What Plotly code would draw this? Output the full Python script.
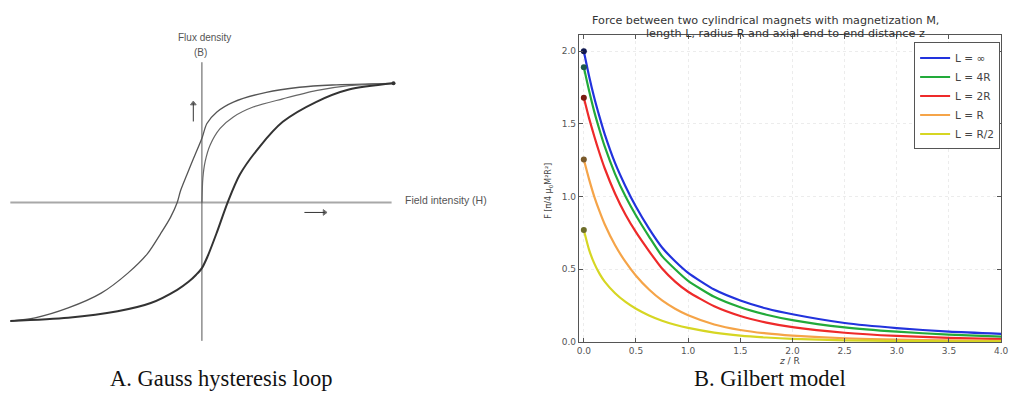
import plotly.graph_objects as go

# ---------------- Panel A: Gauss hysteresis loop (normalised H, B) ----------------
upper_H = [1.0, 0.681, 0.509, 0.336, 0.164, 0.078, 0.026, 0.0, -0.043, -0.078, -0.112, -0.129,
           -0.164, -0.216, -0.284, -0.388, -0.526, -0.698, -0.871, -1.0]
upper_B = [1.0, 0.986, 0.967, 0.925, 0.843, 0.760, 0.663, 0.539, 0.373, 0.235, 0.097, 0.0,
           -0.124, -0.262, -0.428, -0.594, -0.760, -0.884, -0.967, -0.994]
lower_H = [-1.0, -0.698, -0.440, -0.267, -0.129, -0.07, -0.03, 0.0, 0.03, 0.078, 0.134, 0.198, 0.302,
           0.422, 0.595, 0.767, 1.0]
lower_B = [-0.994, -0.967, -0.912, -0.843, -0.732, -0.665, -0.605, -0.55, -0.45, -0.25, 0.0, 0.235, 0.470,
           0.677, 0.843, 0.948, 1.0]
initial_H = [0.0, 0.005, 0.017, 0.043, 0.095, 0.164, 0.267, 0.422, 0.595, 0.767, 1.0]
initial_B = [0.0, 0.207, 0.345, 0.483, 0.622, 0.718, 0.801, 0.870, 0.939, 0.981, 1.0]
h_axis_extent = [-1.0, 0.99]
b_axis_extent = [1.177, -1.16]
saturation_point = (1.0, 1.0)
h_arrow_H = [0.535, 0.64]
h_arrow_B = [-0.083, -0.083]
b_arrow_H = [-0.045, -0.045]
b_arrow_B = [0.68, 0.83]

# ---------------- Panel B: Gilbert model ----------------
z = [0.0, 0.05, 0.1, 0.15, 0.2, 0.3, 0.4, 0.5, 0.625, 0.75, 0.875, 1.0,
     1.25, 1.5, 1.75, 2.0, 2.5, 3.0, 3.5, 4.0]
force = {
    "L = ∞":   [2.00, 1.83, 1.68, 1.55, 1.43, 1.23, 1.07, 0.93, 0.78, 0.65, 0.555, 0.475,
                0.36, 0.285, 0.23, 0.19, 0.13, 0.095, 0.07, 0.055],
    "L = 4R":  [1.89, 1.73, 1.585, 1.46, 1.345, 1.155, 1.0, 0.87, 0.725, 0.59, 0.50, 0.42,
                0.31, 0.238, 0.187, 0.15, 0.10, 0.07, 0.05, 0.036],
    "L = 2R":  [1.68, 1.54, 1.415, 1.30, 1.195, 1.02, 0.875, 0.755, 0.625, 0.505, 0.415, 0.345,
                0.245, 0.178, 0.133, 0.102, 0.063, 0.041, 0.028, 0.019],
    "L = R":   [1.255, 1.12, 1.0, 0.90, 0.81, 0.665, 0.55, 0.455, 0.36, 0.285, 0.228, 0.183,
                0.12, 0.082, 0.058, 0.043, 0.025, 0.015, 0.01, 0.007],
    "L = R/2": [0.77, 0.635, 0.54, 0.47, 0.415, 0.335, 0.275, 0.228, 0.182, 0.146, 0.118, 0.096,
                0.064, 0.043, 0.03, 0.021, 0.011, 0.006, 0.004, 0.003],
}
line_colors = ["#2233dd", "#22aa3a", "#ee2a2a", "#f5a448", "#d6d623"]
dot_colors = ["#101850", "#1d5a4a", "#7a1a10", "#7a5a2a", "#6e6e2a"]
z_ticks = [0.0, 0.5, 1.0, 1.5, 2.0, 2.5, 3.0, 3.5, 4.0]
f_ticks = [0.0, 0.5, 1.0, 1.5, 2.0]

W, H = 1021, 420
fig = go.Figure()

# Panel A traces
fig.add_trace(go.Scatter(x=h_axis_extent, y=[0, 0], mode="lines",
                         line=dict(color="#a8a8a8", width=2), showlegend=False, xaxis="x", yaxis="y"))
fig.add_trace(go.Scatter(x=[0, 0], y=b_axis_extent, mode="lines",
                         line=dict(color="#555555", width=1), showlegend=False, xaxis="x", yaxis="y"))
fig.add_trace(go.Scatter(x=upper_H, y=upper_B, mode="lines",
                         line=dict(color="#555555", width=1.3, shape="spline", smoothing=0.8),
                         showlegend=False, xaxis="x", yaxis="y"))
fig.add_trace(go.Scatter(x=initial_H, y=initial_B, mode="lines",
                         line=dict(color="#666666", width=1.2, shape="spline", smoothing=0.8),
                         showlegend=False, xaxis="x", yaxis="y"))
fig.add_trace(go.Scatter(x=lower_H, y=lower_B, mode="lines",
                         line=dict(color="#333333", width=2, shape="spline", smoothing=0.8),
                         showlegend=False, xaxis="x", yaxis="y"))
fig.add_trace(go.Scatter(x=[saturation_point[0]], y=[saturation_point[1]], mode="markers",
                         marker=dict(color="#333333", size=4), showlegend=False, xaxis="x", yaxis="y"))
for ax_h, ax_b, sym in [(h_arrow_H, h_arrow_B, "triangle-right"), (b_arrow_H, b_arrow_B, "triangle-up")]:
    fig.add_trace(go.Scatter(x=ax_h, y=ax_b, mode="lines+markers",
                             line=dict(color="#333333", width=1),
                             marker=dict(symbol=sym, size=[0, 5], color="#222222"),
                             showlegend=False, xaxis="x", yaxis="y"))

# Panel B traces
for (name, vals), lc in zip(force.items(), line_colors):
    fig.add_trace(go.Scatter(x=z, y=vals, mode="lines", name=name,
                             line=dict(color=lc, width=2.2, shape="spline", smoothing=0.6),
                             xaxis="x2", yaxis="y2"))
for (name, vals), dc in zip(force.items(), dot_colors):
    fig.add_trace(go.Scatter(x=[z[0]], y=[vals[0]], mode="markers", showlegend=False,
                             marker=dict(color=dc, size=6), xaxis="x2", yaxis="y2"))

axis_font = dict(family="DejaVu Sans", size=9, color="#555555")
fig.update_layout(
    width=W, height=H, margin=dict(l=0, r=0, t=0, b=0),
    paper_bgcolor="white", plot_bgcolor="white",
    xaxis=dict(domain=[0, 510 / W], range=[-1.0435, 1.595], visible=False, fixedrange=True),
    yaxis=dict(domain=[0, 1], range=[-1.782, 1.699], visible=False, fixedrange=True),
    xaxis2=dict(domain=[582 / W, 1008 / W], range=[-0.0475, 4.0], anchor="y2",
                tickvals=z_ticks, tickformat=".1f", ticks="inside", ticklen=4, tickcolor="#555",
                showline=True, linecolor="#555555", linewidth=1, mirror="ticks",
                showgrid=True, gridcolor="#ececec", griddash="dot", zeroline=False,
                tickfont=axis_font),
    yaxis2=dict(domain=[(H - 346) / H, (H - 35) / H], range=[0, 2.115], anchor="x2",
                tickvals=f_ticks, tickformat=".1f", ticks="inside", ticklen=4, tickcolor="#555",
                showline=True, linecolor="#555555", linewidth=1, mirror="ticks",
                showgrid=True, gridcolor="#ececec", griddash="dot", zeroline=False,
                tickfont=axis_font),
    legend=dict(x=1007 / W, xanchor="right", y=(H - 43) / H, yanchor="top",
                bgcolor="white", bordercolor="#555555", borderwidth=1,
                font=dict(family="DejaVu Sans", size=10.5, color="#444444")),
    showlegend=True,
)

ann = []
small = dict(family="Liberation Sans", size=10, color="#555555")
ann.append(dict(x=0.012, y=1.384, xref="x", yref="y", text="Flux density", showarrow=False,
                xanchor="center", font=small))
ann.append(dict(x=-0.01, y=1.26, xref="x", yref="y", text="(B)", showarrow=False,
                xanchor="center", font=small))
ann.append(dict(x=1.052, y=0.025, xref="x", yref="y", text="Field intensity (H)", showarrow=False,
                xanchor="left", font=dict(family="Liberation Sans", size=10.5, color="#555555")))

title_font = dict(family="DejaVu Sans", size=11.2, color="#333333")
ann.append(dict(x=770 / W, y=(H - 12) / H, xref="paper", yref="paper", showarrow=False, xanchor="center",
                text="Force between two cylindrical magnets with magnetization M,", font=title_font))
ann.append(dict(x=790 / W, y=(H - 25) / H, xref="paper", yref="paper", showarrow=False, xanchor="center",
                text="length L, radius R and axial end-to-end distance z", font=title_font))
ann.append(dict(x=552 / W, y=(H - 193) / H, xref="paper", yref="paper", showarrow=False, textangle=-90,
                xanchor="center", text="F [π/4 μ<sub>0</sub>M²R²]",
                font=dict(family="DejaVu Sans", size=8, color="#444444")))
ann.append(dict(x=795 / W, y=(H - 372) / H, xref="paper", yref="paper", showarrow=False, xanchor="center",
                text="<i>z</i> / R", font=dict(family="DejaVu Sans", size=9, color="#444444")))

cap_font = dict(family="Liberation Serif", size=22.5, color="#111111")
ann.append(dict(x=221 / W, y=(H - 398) / H, xref="paper", yref="paper", showarrow=False, xanchor="center",
                text="A. Gauss hysteresis loop", font=cap_font))
ann.append(dict(x=775 / W, y=(H - 398) / H, xref="paper", yref="paper", showarrow=False, xanchor="center",
                text="B. Gilbert model", font=cap_font))
fig.update_layout(annotations=ann)

fig.write_html("out.html", config={"displayModeBar": False},
               post_script="document.body.style.margin='0px';")
